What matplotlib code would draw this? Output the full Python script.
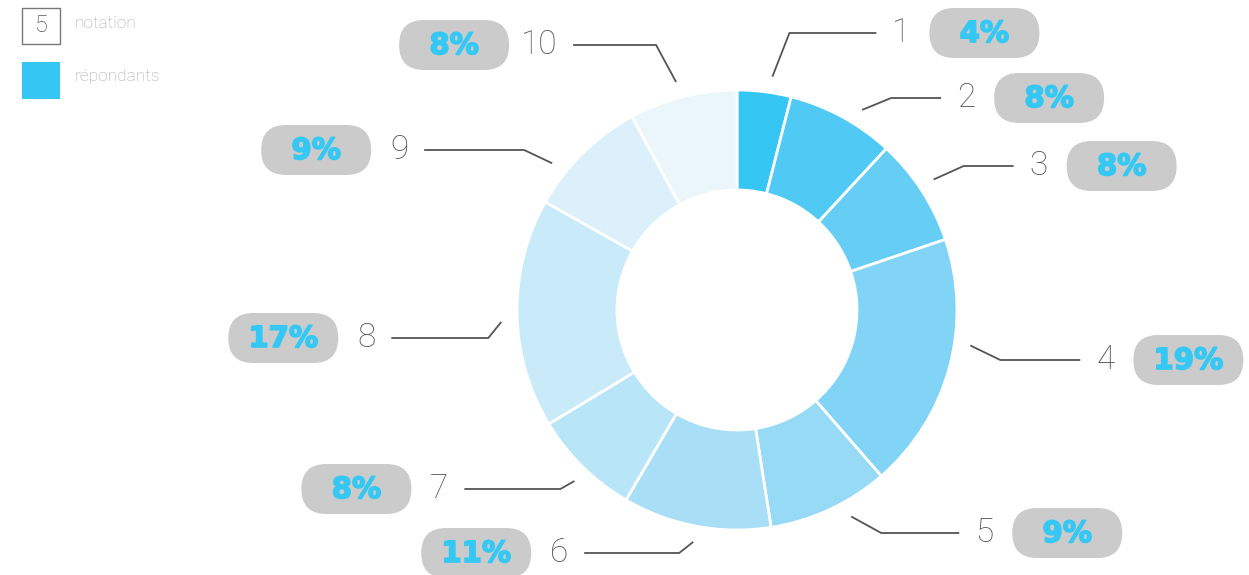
import numpy as np
import matplotlib
matplotlib.use("Agg")
from matplotlib import pyplot as plt
from matplotlib import patheffects
from matplotlib.patches import FancyBboxPatch, Rectangle


# =============================================================================
# Data
# =============================================================================
notes = ['1', '2', '3', '4', '5', '6', '7', '8', '9', '10']
shares = [4, 8, 8, 19, 9, 11, 8, 17, 9, 8]
colors = ['#36c6f4', '#50caf4', '#66cdf4', '#82d4f6', '#97daf6',
    '#a8dff7', '#b8e5f8', '#c9eaf8', '#dbf0fa', '#ebf6fb']
legend_labels = ['notation', 'répondants']


# =============================================================================
# Layout (figure is drawn in pixel coordinates, y pointing up)
# =============================================================================
W, H = 1249, 575
cx, cy = 737, H - 310
radius = 220
ring = 100

# Leader lines: anchor angle shift (deg), label height, elbow offset, length
anchor_shift = [1.5, 3.5, -0.6, -6.5, -4, 0, -1, -2, -7, -0.7]
label_y = [33, 98, 166, 360, 533, 553, 489, 338, 150, 45]
elbow_dx = [17, 29, 30, 30, 30, -14, -14, -13, -28, -20]
line_len = [87, 50, 50, 80, 78, 95, 96, 97, 100, 83]

line_color = '#555559'
pill_color = '#cbcbcb'
pct_color = '#36c8f4'


# =============================================================================
# Figure
# =============================================================================
fig = plt.figure(figsize=(W / 100, H / 100), dpi=100)
ax = fig.add_axes([0, 0, 1, 1])

wedges, _ = ax.pie(shares, colors=colors, startangle=90, counterclock=False,
    center=(cx, cy), radius=radius, frame=True,
    wedgeprops=dict(width=ring, edgecolor='white', linewidth=2))
ax.set_xlim(0, W)
ax.set_ylim(0, H)
ax.set_aspect('equal')
ax.axis('off')

# Labels with leader lines
for i, w in enumerate(wedges):
    # pie runs clockwise here, so a positive shift moves the anchor clockwise
    ang = np.deg2rad((w.theta1 + w.theta2) / 2 - anchor_shift[i])
    x0 = cx + (radius + 16) * np.cos(ang)
    y0 = cy + (radius + 16) * np.sin(ang)
    x1 = x0 + elbow_dx[i]
    y1 = H - label_y[i]
    side = 1 if elbow_dx[i] > 0 else -1
    x2 = x1 + side * line_len[i]
    ax.plot([x0, x1, x2], [y0, y1, y1], color=line_color, linewidth=1.3,
        solid_capstyle='butt')

    ha = 'left' if side > 0 else 'right'
    ax.text(x2 + side * 16, y1, notes[i], ha=ha, va='center', fontsize=24,
        color=line_color, family='Roboto', fontweight='light')

    pc = x2 + side * (108 + 11 * (len(notes[i]) - 1))
    pill = FancyBboxPatch((pc - 55, y1 - 25), 110, 50,
        boxstyle='round,pad=0,rounding_size=25', facecolor=pill_color,
        edgecolor='none')
    ax.add_patch(pill)
    ax.text(pc, y1 - 1, f'{shares[i]}%', ha='center', va='center',
        fontsize=21, color=pct_color, family='DejaVu Sans', fontweight='bold',
        path_effects=[patheffects.withStroke(linewidth=1.2,
        foreground=pct_color)])

# Legend
ax.add_patch(Rectangle((22, H - 44), 38, 36, facecolor='white',
    edgecolor='#777777', linewidth=1))
ax.text(41, H - 26, '5', ha='center', va='center', fontsize=17,
    color='#555555', family='Roboto', fontweight='light')
ax.text(75, H - 23, legend_labels[0], ha='left', va='center', fontsize=12.5,
    color='#a8a8a8', family='Roboto', fontweight='light')
ax.add_patch(Rectangle((22, H - 99), 38, 37, facecolor=colors[0],
    edgecolor='none'))
ax.text(75, H - 77, legend_labels[1], ha='left', va='center', fontsize=12.5,
    color='#a8a8a8', family='Roboto', fontweight='light')

fig.savefig('out.png', dpi=100, facecolor='white')
plt.close()
